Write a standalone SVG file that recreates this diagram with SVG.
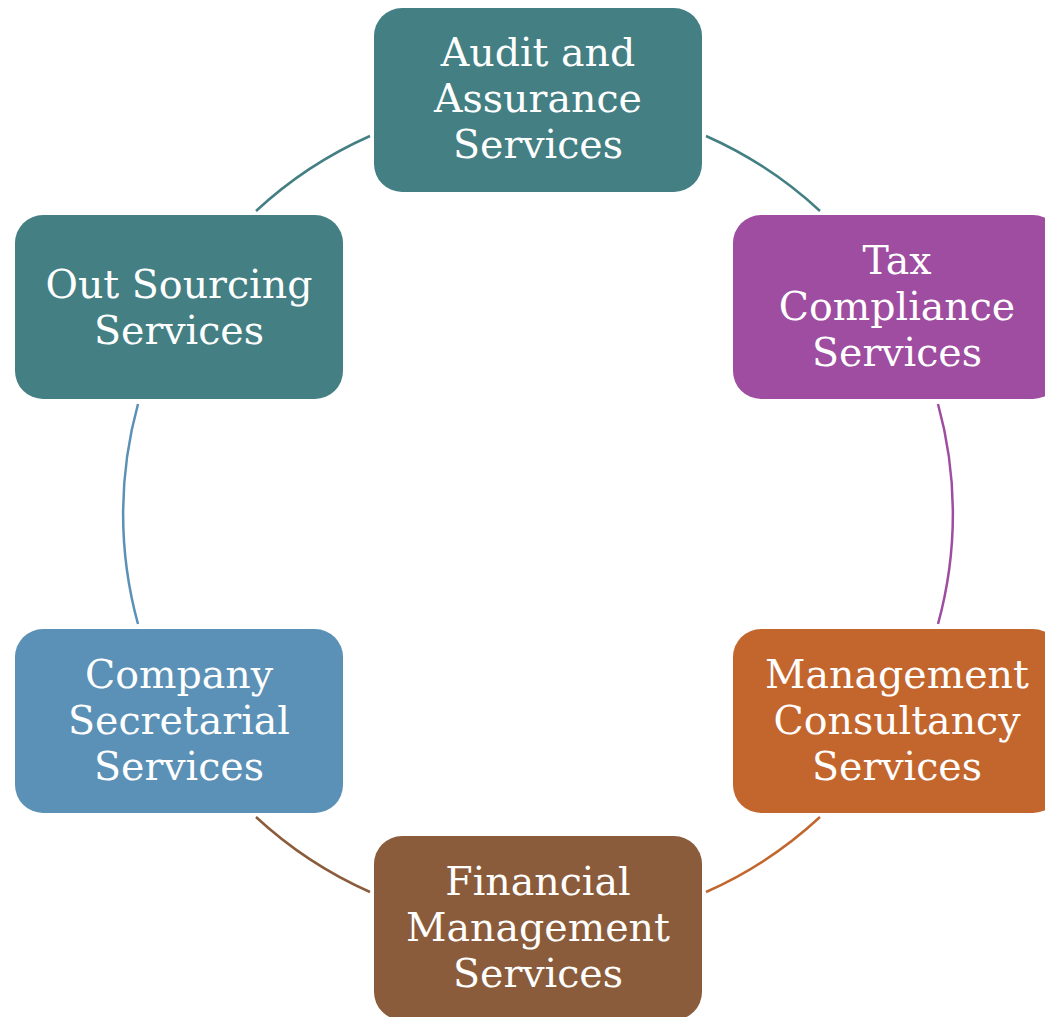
<svg xmlns="http://www.w3.org/2000/svg" width="1045" height="1017" viewBox="0 0 1045 1017">
<style>
.box{stroke:none}
.lbl{font-family:"DejaVu Serif","Liberation Serif",serif;font-size:39.5px;fill:#ffffff;text-anchor:middle}
.arc{fill:none;stroke-width:2.5}
</style>
<rect width="1045" height="1017" fill="#ffffff"/>
<g id="connectors">
<path class="arc" stroke="#437F83" d="M256,211 A414,414 0 0 1 370,136"/>
<path class="arc" stroke="#437F83" d="M706,136 A414,414 0 0 1 820,211"/>
<path class="arc" stroke="#9E4DA0" d="M938,404 A414,414 0 0 1 938,624"/>
<path class="arc" stroke="#C3662E" d="M820,817 A414,414 0 0 1 706,892"/>
<path class="arc" stroke="#8B5C3B" d="M370,892 A414,414 0 0 1 256,817"/>
<path class="arc" stroke="#5B91B6" d="M138,624 A414,414 0 0 1 138,404"/>
</g>
<g id="audit">
<rect class="box" x="374" y="8" width="328" height="184" rx="28" fill="#437F83"/>
<text class="lbl" x="538" y="66">Audit and</text>
<text class="lbl" x="538" y="112">Assurance</text>
<text class="lbl" x="538" y="158">Services</text>
</g>
<g id="tax">
<rect class="box" x="733" y="215" width="328" height="184" rx="28" fill="#9E4DA0"/>
<text class="lbl" x="897" y="274">Tax</text>
<text class="lbl" x="897" y="320">Compliance</text>
<text class="lbl" x="897" y="366">Services</text>
</g>
<g id="management">
<rect class="box" x="733" y="629" width="328" height="184" rx="28" fill="#C3662E"/>
<text class="lbl" x="897" y="688">Management</text>
<text class="lbl" x="897" y="734">Consultancy</text>
<text class="lbl" x="897" y="780">Services</text>
</g>
<g id="financial">
<rect class="box" x="374" y="836" width="328" height="184" rx="28" fill="#8B5C3B"/>
<text class="lbl" x="538" y="895">Financial</text>
<text class="lbl" x="538" y="941">Management</text>
<text class="lbl" x="538" y="987">Services</text>
</g>
<g id="company">
<rect class="box" x="15" y="629" width="328" height="184" rx="28" fill="#5B91B6"/>
<text class="lbl" x="179" y="688">Company</text>
<text class="lbl" x="179" y="734">Secretarial</text>
<text class="lbl" x="179" y="780">Services</text>
</g>
<g id="outsourcing">
<rect class="box" x="15" y="215" width="328" height="184" rx="28" fill="#437F83"/>
<text class="lbl" x="179" y="298">Out Sourcing</text>
<text class="lbl" x="179" y="344">Services</text>
</g>
</svg>
